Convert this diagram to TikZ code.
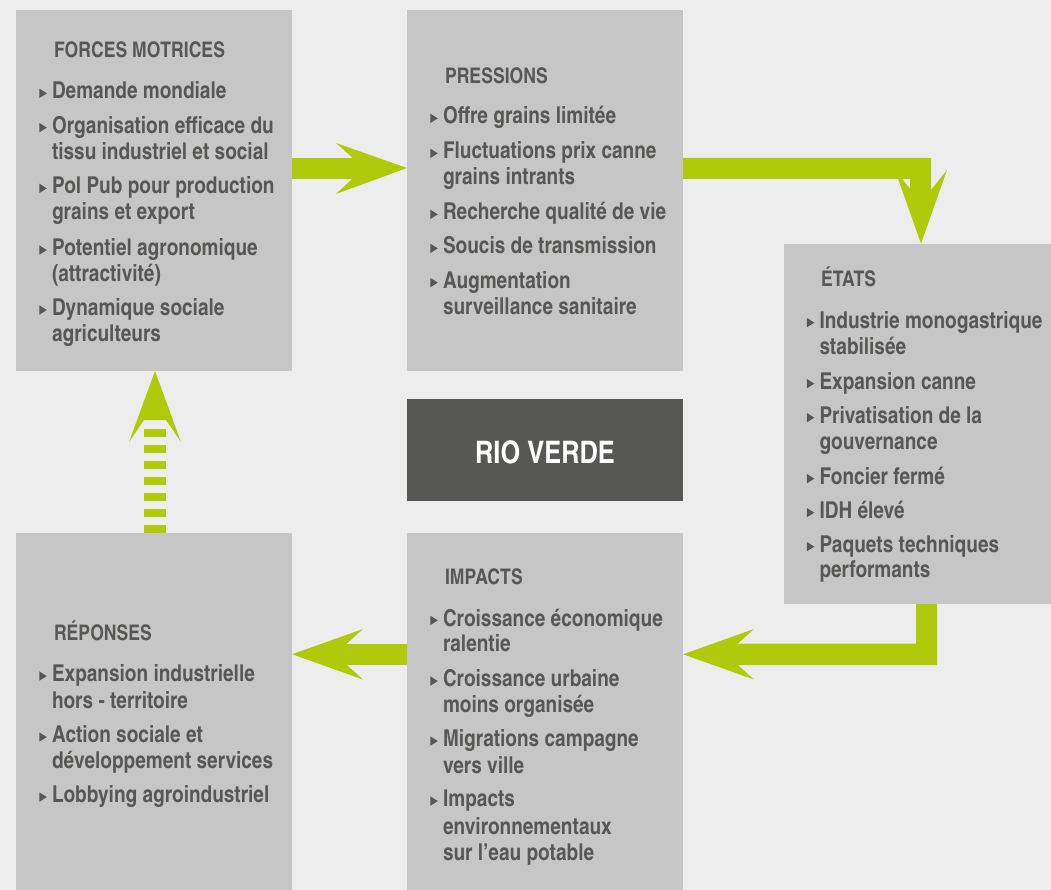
\documentclass[tikz,border=0pt]{standalone}
\usepackage{fontspec}
\setmainfont{texgyreheroscn}[Extension=.otf, UprightFont=*-regular, BoldFont=*-bold, ItalicFont=*-italic, BoldItalicFont=*-bolditalic]
\usetikzlibrary{calc}
\definecolor{bgc}{HTML}{EDEDED}
\definecolor{boxc}{HTML}{C6C6C6}
\definecolor{txtc}{HTML}{575756}
\definecolor{grn}{HTML}{AFCA0B}
\definecolor{darkc}{HTML}{575756}
\tikzset{
  panel/.style={fill=boxc, draw=none, inner sep=0pt, outer sep=0pt, anchor=north west},
  itxt/.style={anchor=base west, inner sep=0pt, outer sep=0pt, text=txtc, font=\fontsize{23.2}{26}\selectfont\bfseries},
  ttl/.style={anchor=base west, inner sep=0pt, outer sep=0pt, text=txtc, font=\fontsize{21.5}{24}\selectfont\bfseries},
  green/.style={fill=grn, draw=none}
}
\newcommand\tline[4]{\node[itxt] (#1) at (#2,#3) {#4};}
\newcommand\bline[4]{\node[itxt] (#1) at (#2,#3) {#4};
  \fill[txtc] ([xshift=-12.6pt,yshift=1pt]#1.base west) -- ++(0pt,9.3pt) -- ++(7.4pt,-4.65pt) -- cycle;}
\begin{document}
\begin{tikzpicture}[x=1pt,y=-1pt]
\fill[bgc] (0,0) rectangle (1051,890);
\useasboundingbox (0,0) rectangle (1051,890);
% panels
\node[panel, minimum width=276pt, minimum height=361pt] (forces) at (16,10) {};
\node[panel, minimum width=276pt, minimum height=361pt] (press) at (407,10) {};
\node[panel, minimum width=267pt, minimum height=360.3pt] (etats) at (784,243.7) {};
\node[panel, fill=darkc, minimum width=276pt, minimum height=102pt] (rvbox) at (407,399) {};
\node[panel, minimum width=276pt, minimum height=357.3pt] (resp) at (16,532.7) {};
\node[panel, minimum width=276pt, minimum height=357.3pt] (impa) at (407,532.7) {};
\node[anchor=base, inner sep=0pt, text=white, font=\fontsize{31}{31}\selectfont\bfseries] (rv) at (545,463.3) {RIO VERDE};
% arrow forces -> pressions
\fill[green] (forces.east |- 0,158) -- (366,158) -- (366,179) -- (forces.east |- 0,179) -- cycle;
\fill[green] (336,143) -- (press.west |- 0,168) -- (336,194) -- (364,168) -- cycle;
% arrow pressions -> etats
\fill[green] (press.east |- 0,158) -- (931,158) -- (931,204) -- (910,204) -- (910,179) -- (press.east |- 0,179) -- cycle;
\fill[green] (895,170) -- (921,202.5) -- (947,170) -- (etats.north -| 921,0) ++(0pt,1.5pt) -- cycle;
% arrow etats -> impacts
\fill[green] (etats.south -| 916,0) -- (etats.south -| 937,0) -- (937,665) -- (724,665) -- (724,643.5) -- (916,643.5) -- cycle;
\fill[green] (754,629) -- (impa.east |- 0,654.25) -- (754,679.5) -- (726,654.25) -- cycle;
% arrow impacts -> reponses
\fill[green] (impa.west |- 0,643.5) -- (333,643.5) -- (333,665) -- (impa.west |- 0,665) -- cycle;
\fill[green] (363,629) -- (resp.east |- 0,654.25) -- (363,679.5) -- (335,654.25) -- cycle;
% dashed arrow reponses -> forces
\draw[grn, line width=22pt, dash pattern=on 8pt off 8pt] (resp.north -| 155,0) -- (155,421);
\fill[green] (forces.south -| 155,0) -- (181,442) -- (166,420) -- (144,420) -- (129,442) -- cycle;
% FORCES MOTRICES
\node[ttl] (ft) at (54,57.3) {FORCES MOTRICES};
\bline{f1}{52}{99}{Demande mondiale}
\bline{f2}{52}{133.3}{Organisation efficace du}
\tline{f3}{52}{159.3}{tissu industriel et social}
\bline{f4}{52}{194}{Pol Pub pour production}
\tline{f5}{52}{220}{grains et export}
\bline{f6}{52}{255.7}{Potentiel agronomique}
\tline{f7}{52}{281.5}{(attractivité)}
\bline{f8}{52}{315.7}{Dynamique sociale}
\tline{f9}{52}{341.5}{agriculteurs}
% PRESSIONS
\node[ttl] (pt) at (445,83.3) {PRESSIONS};
\bline{p1}{443}{124}{Offre grains limitée}
\bline{p2}{443}{159}{Fluctuations prix canne}
\tline{p3}{443}{185}{grains intrants}
\bline{p4}{443}{220}{Recherche qualité de vie}
\bline{p5}{443}{254}{Soucis de transmission}
\bline{p6}{443}{288.3}{Augmentation}
\tline{p7}{443}{315}{surveillance sanitaire}
% ETATS
\node[ttl] (et) at (821,286.7) {ÉTATS};
\bline{e1}{819.5}{328.3}{Industrie monogastrique}
\tline{e2}{819.5}{354.3}{stabilisée}
\bline{e3}{819.5}{389.3}{Expansion canne}
\bline{e4}{819.5}{423.3}{Privatisation de la}
\tline{e5}{819.5}{449.3}{gouvernance}
\bline{e6}{819.5}{484.3}{Foncier fermé}
\bline{e7}{819.5}{518.3}{IDH élevé}
\bline{e8}{819.5}{552.3}{Paquets techniques}
\tline{e9}{819.5}{577.3}{performants}
% IMPACTS
\node[ttl] (it) at (445,584) {IMPACTS};
\bline{i1}{443}{626}{Croissance économique}
\tline{i2}{443}{651.5}{ralentie}
\bline{i3}{443}{686.7}{Croissance urbaine}
\tline{i4}{443}{712.7}{moins organisée}
\bline{i5}{443}{746.7}{Migrations campagne}
\tline{i6}{443}{773}{vers ville}
\bline{i7}{443}{806.7}{Impacts}
\tline{i8}{443}{834}{environnementaux}
\tline{i9}{443}{860.7}{sur l’eau potable}
% REPONSES
\node[ttl] (rt) at (54,640.7) {RÉPONSES};
\bline{r1}{52}{681.7}{Expansion industrielle}
\tline{r2}{52}{708.3}{hors - territoire}
\bline{r3}{52}{742.7}{Action sociale et}
\tline{r4}{52}{768.3}{développement services}
\bline{r5}{52}{802.7}{Lobbying agroindustriel}
\end{tikzpicture}
\end{document}
